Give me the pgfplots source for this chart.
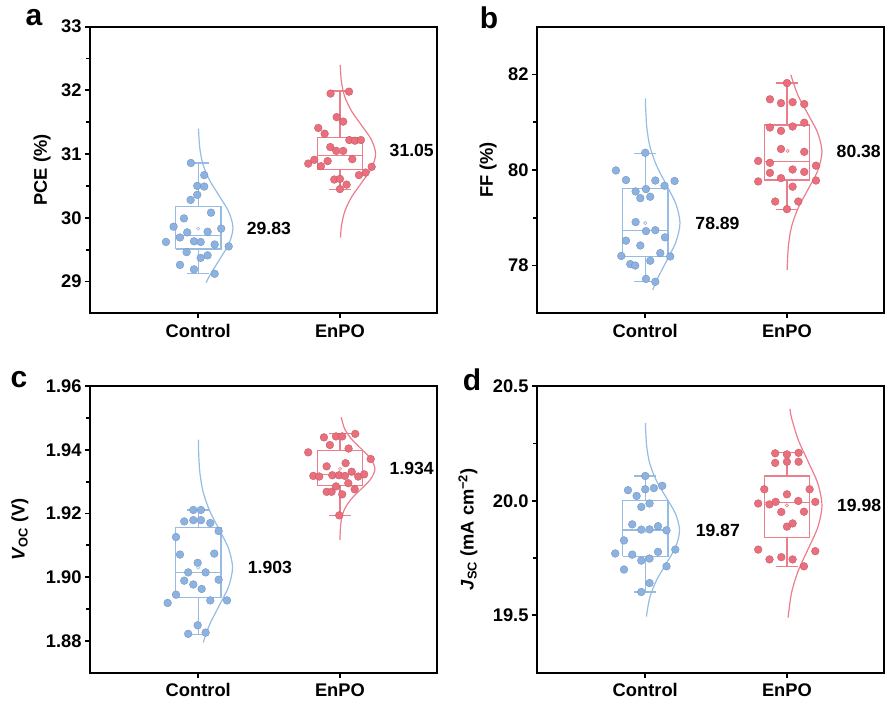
\documentclass[border=0pt]{standalone}
\usepackage{fontspec}
\setmainfont{Liberation Sans}
\usepackage{pgfplots}
\pgfplotsset{compat=1.18}
\definecolor{lineblue}{RGB}{150,188,228}
\definecolor{dotblue}{RGB}{140,178,226}
\definecolor{linered}{RGB}{236,125,138}
\definecolor{dotred}{RGB}{234,110,124}
\newcommand{\fs}[1]{\fontsize{#1}{#1}\selectfont\bfseries}
\pgfplotsset{
  myaxis/.style={
    width=347pt, height=286.6pt, scale only axis,
    anchor=south west, clip=false,
    xmin=0.236, xmax=2.685,
    xtick={1,2}, xticklabels={Control,EnPO},
    xtick pos=bottom, ytick pos=left,
    tick align=outside,
    major tick length=5pt, minor tick length=4pt,
    axis line style={line width=2.2pt},
    every tick/.style={black, line width=1.8pt},
    tick label style={font=\fs{18.3}},
    xticklabel style={yshift=-2.5pt},
    label style={font=\fs{18.3}},
    /pgf/number format/assume math mode=true,
    minor y tick num=1,
  },
  bxB/.style={draw=lineblue, line width=1.2pt, no marks, sharp plot},
  bxR/.style={draw=linered, line width=1.2pt, no marks, sharp plot},
  curveB/.style={draw=lineblue, line width=1.2pt, smooth, no marks},
  curveR/.style={draw=linered, line width=1.2pt, smooth, no marks},
  dotsB/.style={only marks, mark=*, mark size=3.9pt, mark options={fill=dotblue, draw=dotblue!80!black, line width=0.3pt}},
  dotsR/.style={only marks, mark=*, mark size=3.9pt, mark options={fill=dotred, draw=dotred!80!black, line width=0.3pt}},
  meanB/.style={only marks, mark=o, mark size=1.6pt, mark options={draw=lineblue, line width=0.6pt}},
  meanR/.style={only marks, mark=o, mark size=1.6pt, mark options={draw=linered, line width=0.6pt}},
}
\begin{document}
\begin{tikzpicture}[x=1pt,y=1pt]
\useasboundingbox (0,0) rectangle (886,706);
% ---------------- panel a ----------------
\begin{axis}[myaxis, at={(90pt,392.7pt)},
  ymin=28.5, ymax=33, ytick={29,30,31,32,33},
  ylabel={PCE (\%)}, ylabel style={at={(axis description cs:-0.138,0.5)}, anchor=center}]
\addplot[curveB] coordinates {(1.056,28.98)(1.080,29.09)(1.149,29.34)(1.216,29.59)(1.245,29.84)(1.216,30.09)(1.149,30.34)(1.080,30.59)(1.033,30.84)(1.011,31.09)(1.003,31.34)(1.002,31.40)};
\addplot[curveR] coordinates {(2.004,29.69)(2.011,29.875)(2.034,30.10)(2.082,30.325)(2.153,30.55)(2.222,30.775)(2.252,31.0)(2.222,31.225)(2.153,31.45)(2.082,31.675)(2.034,31.90)(2.011,32.125)(2.003,32.35)(2.002,32.40)};
\addplot[bxB] coordinates {(0.84,29.51)(1.16,29.51)(1.16,30.18)(0.84,30.18)(0.84,29.51)};
\addplot[bxB] coordinates {(0.84,29.72)(1.16,29.72)};
\addplot[bxB] coordinates {(1,30.18)(1,30.86)};
\addplot[bxB] coordinates {(1,29.51)(1,29.12)};
\addplot[bxB] coordinates {(0.923,30.86)(1.077,30.86)};
\addplot[bxB] coordinates {(0.923,29.12)(1.077,29.12)};
\addplot[bxR] coordinates {(1.84,30.76)(2.16,30.76)(2.16,31.26)(1.84,31.26)(1.84,30.76)};
\addplot[bxR] coordinates {(1.84,30.98)(2.16,30.98)};
\addplot[bxR] coordinates {(2,31.26)(2,31.99)};
\addplot[bxR] coordinates {(2,30.76)(2,30.44)};
\addplot[bxR] coordinates {(1.923,31.99)(2.077,31.99)};
\addplot[bxR] coordinates {(1.923,30.44)(2.077,30.44)};
\addplot[dotsB] coordinates {(0.948,30.86)(1.042,30.67)(0.993,30.50)(1.042,30.49)(0.993,30.36)(0.946,30.28)(1.090,30.08)(0.899,29.99)(0.826,29.86)(1.162,29.83)(0.922,29.77)(1.066,29.78)(0.871,29.69)(0.970,29.63)(1.017,29.62)(0.772,29.62)(1.116,29.58)(1.215,29.55)(0.918,29.46)(1.066,29.41)(1.017,29.37)(0.871,29.26)(0.970,29.19)(1.116,29.12)};
\addplot[dotsR] coordinates {(1.934,31.95)(2.064,31.98)(1.977,31.58)(2.023,31.51)(1.847,31.41)(1.892,31.32)(2.066,31.22)(2.106,31.21)(2.148,31.22)(1.932,31.11)(1.974,31.05)(2.023,31.05)(1.776,30.85)(1.819,30.91)(1.866,30.81)(1.913,30.89)(2.087,30.92)(2.224,30.80)(2.181,30.71)(2.134,30.67)(1.960,30.60)(2.000,30.61)(2.047,30.52)(2.000,30.45)};
\addplot[meanB] coordinates {(1,29.83)};
\addplot[meanR] coordinates {(2,31.05)};
\node[anchor=west, inner sep=0pt, font=\fs{17.6}] at (axis cs:1.342,29.83) {29.83};
\node[anchor=west, inner sep=0pt, font=\fs{17.6}] at (axis cs:2.35,31.05) {31.05};
\end{axis}
% ---------------- panel b ----------------
\begin{axis}[myaxis, at={(537pt,392.7pt)},
  ymin=77, ymax=83, ytick={78,80,82},
  ylabel={FF (\%)}, ylabel style={at={(axis description cs:-0.141,0.5)}, anchor=center}]
\addplot[curveB] coordinates {(1.053,77.49)(1.080,77.69)(1.149,78.09)(1.216,78.49)(1.245,78.89)(1.216,79.29)(1.149,79.69)(1.080,80.09)(1.033,80.49)(1.011,80.89)(1.003,81.29)(1.001,81.50)};
\addplot[curveR] coordinates {(2.002,77.91)(2.003,78.04)(2.011,78.43)(2.033,78.82)(2.080,79.21)(2.150,79.60)(2.218,79.99)(2.247,80.38)(2.218,80.77)(2.150,81.16)(2.080,81.55)(2.033,81.94)(2.030,81.99)};
\addplot[bxB] coordinates {(0.84,78.19)(1.16,78.19)(1.16,79.62)(0.84,79.62)(0.84,78.19)};
\addplot[bxB] coordinates {(0.84,78.73)(1.16,78.73)};
\addplot[bxB] coordinates {(1,79.62)(1,80.35)};
\addplot[bxB] coordinates {(1,78.19)(1,77.66)};
\addplot[bxB] coordinates {(0.923,80.35)(1.077,80.35)};
\addplot[bxB] coordinates {(0.923,77.66)(1.077,77.66)};
\addplot[bxR] coordinates {(1.84,79.79)(2.16,79.79)(2.16,80.94)(1.84,80.94)(1.84,79.79)};
\addplot[bxR] coordinates {(1.84,80.17)(2.16,80.17)};
\addplot[bxR] coordinates {(2,80.94)(2,81.82)};
\addplot[bxR] coordinates {(2,79.79)(2,79.18)};
\addplot[bxR] coordinates {(1.923,81.82)(2.077,81.82)};
\addplot[bxR] coordinates {(1.923,79.18)(2.077,79.18)};
\addplot[dotsB] coordinates {(1.000,80.36)(0.793,79.99)(0.864,79.79)(1.071,79.78)(1.207,79.77)(1.136,79.67)(0.932,79.55)(1.005,79.60)(0.965,79.41)(1.035,79.44)(0.932,78.91)(1.005,78.72)(1.071,78.74)(1.139,78.59)(0.864,78.52)(0.965,78.42)(1.106,78.26)(0.831,78.20)(1.176,78.19)(0.894,78.03)(0.929,78.00)(1.035,78.10)(1.005,77.72)(1.071,77.66)};
\addplot[dotsR] coordinates {(2.000,81.82)(1.880,81.48)(1.958,81.40)(2.040,81.42)(2.122,81.38)(1.880,80.89)(1.958,80.82)(2.040,80.91)(2.122,80.99)(1.958,80.44)(2.122,80.38)(1.797,80.19)(1.880,80.15)(2.205,80.09)(1.880,79.94)(2.040,80.01)(2.122,79.96)(1.958,79.83)(1.797,79.76)(2.205,79.78)(2.040,79.65)(1.917,79.34)(2.080,79.34)(2.000,79.18)};
\addplot[meanB] coordinates {(1,78.89)};
\addplot[meanR] coordinates {(2.005,80.40)};
\node[anchor=west, inner sep=0pt, font=\fs{17.6}] at (axis cs:1.353,78.89) {78.89};
\node[anchor=west, inner sep=0pt, font=\fs{17.6}] at (axis cs:2.35,80.38) {80.38};
\end{axis}
% ---------------- panel c ----------------
\begin{axis}[myaxis, at={(90pt,33.3pt)},
  ymin=1.87, ymax=1.96, ytick={1.88,1.90,1.92,1.94,1.96},
  yticklabel style={/pgf/number format/.cd, fixed, fixed zerofill, precision=2},
  ylabel={\textit{V}\textsubscript{OC} (V)}, ylabel style={at={(axis description cs:-0.2017,0.5)}, anchor=center}]
\addplot[curveB] coordinates {(1.035,1.8795)(1.079,1.885)(1.147,1.891)(1.214,1.897)(1.242,1.903)(1.214,1.909)(1.147,1.915)(1.079,1.921)(1.033,1.927)(1.011,1.933)(1.003,1.939)(1.001,1.9432)};
\addplot[curveR] coordinates {(2.000,1.9116)(2.003,1.9151)(2.011,1.91825)(2.033,1.9214)(2.080,1.92455)(2.150,1.9277)(2.218,1.93085)(2.247,1.934)(2.218,1.93715)(2.150,1.9403)(2.080,1.94345)(2.033,1.9466)(2.009,1.9502)};
\addplot[bxB] coordinates {(0.84,1.8937)(1.16,1.8937)(1.16,1.9155)(0.84,1.9155)(0.84,1.8937)};
\addplot[bxB] coordinates {(0.84,1.9015)(1.16,1.9015)};
\addplot[bxB] coordinates {(1,1.9155)(1,1.9211)};
\addplot[bxB] coordinates {(1,1.8937)(1,1.8819)};
\addplot[bxB] coordinates {(0.923,1.9211)(1.077,1.9211)};
\addplot[bxB] coordinates {(0.923,1.8819)(1.077,1.8819)};
\addplot[bxR] coordinates {(1.84,1.9287)(2.16,1.9287)(2.16,1.9397)(1.84,1.9397)(1.84,1.9287)};
\addplot[bxR] coordinates {(1.84,1.9323)(2.16,1.9323)};
\addplot[bxR] coordinates {(2,1.9397)(2,1.9450)};
\addplot[bxR] coordinates {(2,1.9287)(2,1.9194)};
\addplot[bxR] coordinates {(1.923,1.9450)(2.077,1.9450)};
\addplot[bxR] coordinates {(1.923,1.9194)(2.077,1.9194)};
\addplot[dotsB] coordinates {(0.965,1.9211)(1.019,1.9211)(0.901,1.9175)(0.965,1.9179)(1.019,1.9179)(1.085,1.9170)(1.144,1.9145)(0.843,1.9126)(0.871,1.9071)(1.113,1.9074)(0.996,1.9045)(0.929,1.9015)(1.052,1.9015)(0.901,1.8989)(1.144,1.8992)(0.965,1.8977)(1.024,1.8963)(0.843,1.8945)(0.784,1.8919)(1.085,1.8927)(1.203,1.8927)(0.996,1.8849)(0.929,1.8822)(1.052,1.8826)};
\addplot[dotsR] coordinates {(1.887,1.9439)(1.972,1.9442)(2.016,1.9442)(2.108,1.9450)(1.929,1.9415)(2.061,1.9404)(1.776,1.9392)(2.217,1.9371)(1.906,1.9348)(2.040,1.9358)(1.812,1.9318)(1.854,1.9316)(1.946,1.9320)(1.993,1.9320)(2.035,1.9318)(2.083,1.9331)(2.129,1.9316)(2.171,1.9323)(1.906,1.9268)(1.941,1.9268)(1.972,1.9285)(2.059,1.9295)(2.104,1.9276)(2.016,1.9260)(1.995,1.9194)};
\addplot[meanB] coordinates {(1,1.903)};
\addplot[meanR] coordinates {(2,1.934)};
\node[anchor=west, inner sep=0pt, font=\fs{17.6}] at (axis cs:1.349,1.903) {1.903};
\node[anchor=west, inner sep=0pt, font=\fs{17.6}] at (axis cs:2.35,1.934) {1.934};
\end{axis}
% ---------------- panel d ----------------
\begin{axis}[myaxis, at={(537pt,33.3pt)},
  ymin=19.25, ymax=20.5, ytick={19.5,20,20.5},
  yticklabel style={/pgf/number format/.cd, fixed, fixed zerofill, precision=1},
  ylabel={\textit{J}\textsubscript{SC} (mA cm\textsuperscript{−2})}, ylabel style={at={(axis description cs:-0.199,0.5)}, anchor=center}]
\addplot[curveB] coordinates {(1.008,19.495)(1.011,19.5075)(1.033,19.58)(1.079,19.6525)(1.147,19.725)(1.214,19.7975)(1.242,19.87)(1.214,19.9425)(1.147,20.015)(1.079,20.0875)(1.033,20.16)(1.011,20.2325)(1.003,20.305)(1.001,20.339)};
\addplot[curveR] coordinates {(2.010,19.495)(2.011,19.505)(2.033,19.60)(2.080,19.695)(2.150,19.79)(2.218,19.885)(2.247,19.98)(2.218,20.075)(2.150,20.17)(2.080,20.265)(2.033,20.36)(2.021,20.401)};
\addplot[bxB] coordinates {(0.84,19.758)(1.16,19.758)(1.16,20.002)(0.84,20.002)(0.84,19.758)};
\addplot[bxB] coordinates {(0.84,19.872)(1.16,19.872)};
\addplot[bxB] coordinates {(1,20.002)(1,20.108)};
\addplot[bxB] coordinates {(1,19.758)(1,19.602)};
\addplot[bxB] coordinates {(0.923,20.108)(1.077,20.108)};
\addplot[bxB] coordinates {(0.923,19.602)(1.077,19.602)};
\addplot[bxR] coordinates {(1.84,19.839)(2.16,19.839)(2.16,20.108)(1.84,20.108)(1.84,19.839)};
\addplot[bxR] coordinates {(1.84,19.992)(2.16,19.992)};
\addplot[bxR] coordinates {(2,20.108)(2,20.21)};
\addplot[bxR] coordinates {(2,19.839)(2,19.714)};
\addplot[bxR] coordinates {(1.923,20.21)(2.077,20.21)};
\addplot[bxR] coordinates {(1.923,19.714)(2.077,19.714)};
\addplot[dotsB] coordinates {(1.000,20.108)(0.878,20.046)(0.939,20.021)(1.000,20.050)(1.061,20.055)(1.120,20.065)(0.972,19.973)(1.030,19.988)(0.908,19.897)(0.972,19.874)(1.030,19.875)(1.090,19.889)(1.150,19.871)(0.850,19.827)(0.788,19.770)(0.908,19.765)(0.972,19.739)(1.030,19.748)(1.090,19.777)(1.212,19.787)(1.150,19.714)(0.850,19.700)(1.030,19.641)(0.972,19.602)};
\addplot[dotsR] coordinates {(1.917,20.207)(2.000,20.202)(2.082,20.209)(1.917,20.165)(2.000,20.170)(2.082,20.170)(1.840,20.050)(2.160,20.050)(2.000,20.028)(1.797,19.988)(1.877,19.984)(1.920,19.995)(2.080,19.999)(2.200,19.995)(1.960,19.951)(2.120,19.952)(2.000,19.887)(2.040,19.901)(1.797,19.787)(2.200,19.780)(1.877,19.744)(1.960,19.754)(2.040,19.744)(2.120,19.714)};
\addplot[meanB] coordinates {(1,19.87)};
\addplot[meanR] coordinates {(2,19.98)};
\node[anchor=west, inner sep=0pt, font=\fs{17.6}] at (axis cs:1.355,19.87) {19.87};
\node[anchor=west, inner sep=0pt, font=\fs{17.6}] at (axis cs:2.353,19.98) {19.98};
\end{axis}
% panel letters
\node[font=\fs{30}] at (34,688) {a};
\node[font=\fs{30}] at (489,688) {b};
\node[font=\fs{30}] at (19,326) {c};
\node[font=\fs{30}] at (472,326) {d};
\end{tikzpicture}
\end{document}
